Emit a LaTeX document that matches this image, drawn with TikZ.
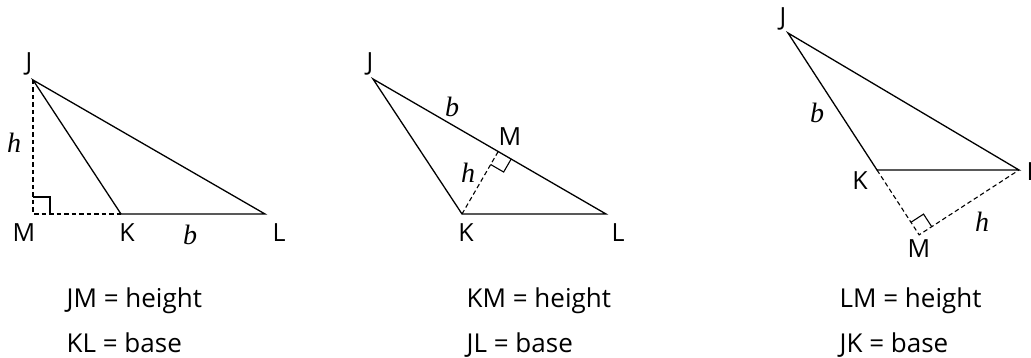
\documentclass[tikz,border=0pt]{standalone}
\usepackage{fontspec}
\setmainfont{Open Sans}
\newfontfamily\varfont{Liberation Serif}
\usetikzlibrary{calc}

\begin{document}
\begin{tikzpicture}[x=1pt, y=-1pt, line width=1.3pt,
    vlabel/.style={font=\fontsize{25}{28}\selectfont, inner sep=0pt},
    mlabel/.style={font=\fontsize{28}{30}\selectfont\varfont\itshape, inner sep=0pt},
    rule/.style={font=\fontsize{26}{28}\selectfont, anchor=base west, inner sep=0pt},
    alt/.style={dash pattern=on 4.5pt off 3pt, line width=1.1pt},
    corner/.style={line width=1.1pt}]
    \useasboundingbox (0,0) rectangle (1031,358);

    % triangle 1: height from J meets KL extended
    \coordinate (J1) at (33,80);
    \coordinate (K1) at (121,214);
    \coordinate (L1) at (265,214);
    \coordinate (M1) at ($(K1)!(J1)!(L1)$);
    \draw (J1) -- (K1) -- (L1) -- cycle;
    \draw[alt] (J1) -- (M1) -- (K1);
    \coordinate (a1) at ($(M1)!17pt!(J1)$);
    \coordinate (c1) at ($(M1)!17pt!(K1)$);
    \draw[corner] (a1) -- ($(a1)+(c1)-(M1)$) -- (c1);
    \node[vlabel] (nJ1) at (29,64) {J};
    \node[vlabel] (nM1) at (24,233) {M};
    \node[vlabel] (nK1) at (127,233) {K};
    \node[vlabel] (nL1) at (279,233) {L};
    \node[mlabel] (nh1) at (14,143) {h};
    \node[mlabel] (nb1) at (190,235) {b};

    % triangle 2: height from K meets JL
    \coordinate (J2) at (373,79);
    \coordinate (K2) at (462,214);
    \coordinate (L2) at (606,214);
    \coordinate (M2) at ($(J2)!(K2)!(L2)$);
    \draw (J2) -- (K2) -- (L2) -- cycle;
    \draw[alt] (K2) -- (M2);
    \coordinate (a2) at ($(M2)!15pt!(L2)$);
    \coordinate (c2) at ($(M2)!15pt!(K2)$);
    \draw[corner] (a2) -- ($(a2)+(c2)-(M2)$) -- (c2);
    \node[vlabel] (nJ2) at (370,64) {J};
    \node[vlabel] (nM2) at (510,137) {M};
    \node[vlabel] (nK2) at (466,233) {K};
    \node[vlabel] (nL2) at (618,233) {L};
    \node[mlabel] (nh2) at (468,173) {h};
    \node[mlabel] (nb2) at (452,107) {b};

    % triangle 3: height from L meets JK extended
    \coordinate (J3) at (788,33);
    \coordinate (K3) at (877,170);
    \coordinate (L3) at (1019,170);
    \coordinate (M3) at ($(J3)!(L3)!(K3)$);
    \draw (J3) -- (K3) -- (L3) -- cycle;
    \draw[alt] (K3) -- (M3) -- (L3);
    \coordinate (a3) at ($(M3)!15pt!(K3)$);
    \coordinate (c3) at ($(M3)!15pt!(L3)$);
    \draw[corner] (a3) -- ($(a3)+(c3)-(M3)$) -- (c3);
    \node[vlabel] (nJ3) at (783,19) {J};
    \node[vlabel] (nK3) at (860,181) {K};
    \node[vlabel, anchor=west] (nL3) at (1026,172) {L};
    \node[vlabel] (nM3) at (919,249) {M};
    \node[mlabel] (nh3) at (982,222) {h};
    \node[mlabel] (nb3) at (817,113) {b};

    % what is height and base in each case
    \node[rule] (h1) at (66,307) {JM = height};
    \node[rule] (b1) at (66,352) {KL = base};
    \node[rule] (h2) at (466,307) {KM = height};
    \node[rule] (b2) at (466,352) {JL = base};
    \node[rule] (h3) at (839,307) {LM = height};
    \node[rule] (b3) at (839,352) {JK = base};
\end{tikzpicture}
\end{document}
